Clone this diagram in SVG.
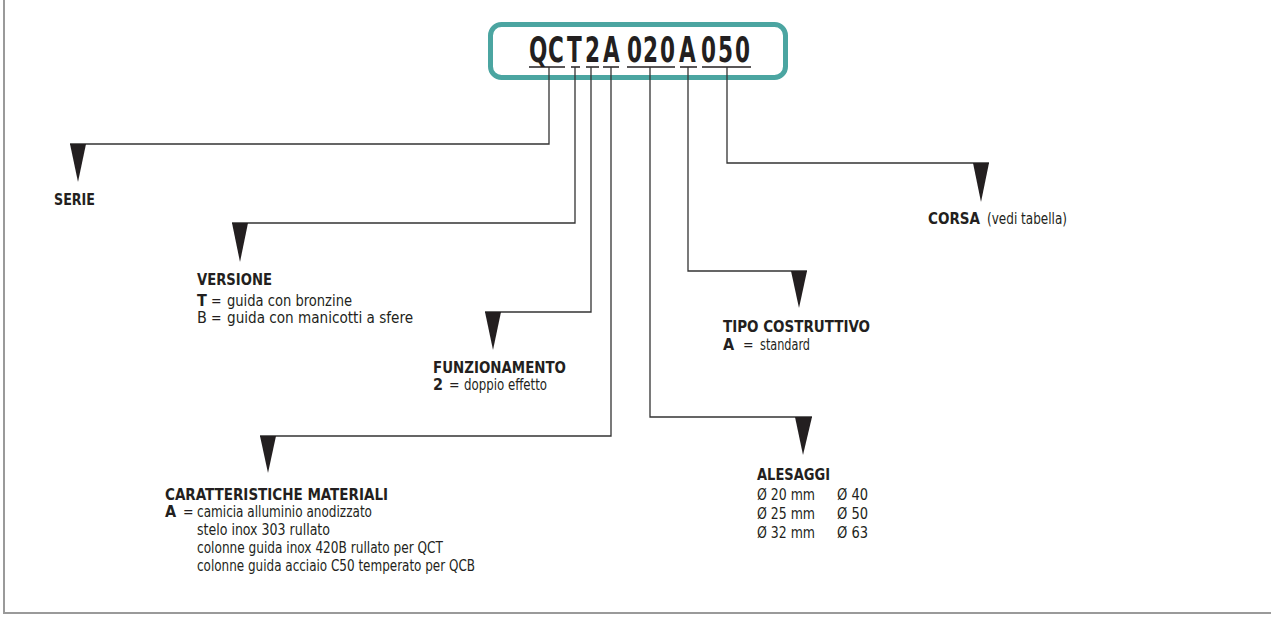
<svg xmlns="http://www.w3.org/2000/svg" width="1271" height="619" viewBox="0 0 1271 619">
<style>
text{font-family:"DejaVu Sans Condensed","DejaVu Sans","Liberation Sans",sans-serif;fill:#231f20;font-size:16px}
.b{font-weight:bold}
.eq{font-size:14px}
.code{font-size:24px;font-weight:bold;fill:#231f20}
.ln{fill:none;stroke:#333;stroke-width:1.3}
.ul{fill:none;stroke:#231f20;stroke-width:1.3}
.tri{fill:#231f20}
</style>
<rect width="1271" height="619" fill="#fff"/>
<path d="M4,0 V613 H1271" fill="none" stroke="#9a9a9a" stroke-width="2"/>
<g id="code">
<rect x="490.5" y="24.5" width="295" height="53" rx="11" fill="#fff" stroke="#4ba5a1" stroke-width="5"/>
<g transform="translate(0,62) scale(1,1.45)">
<text class="code" x="529" y="0">Q</text>
<text class="code" x="548" y="0">C</text>
<text class="code" x="567" y="0">T</text>
<text class="code" x="585" y="0">2</text>
<text class="code" x="603" y="0">A</text>
<text class="code" x="627" y="0">0</text>
<text class="code" x="643" y="0">2</text>
<text class="code" x="660" y="0">0</text>
<text class="code" x="679" y="0">A</text>
<text class="code" x="701" y="0">0</text>
<text class="code" x="718" y="0">5</text>
<text class="code" x="735" y="0">0</text>
</g>
<path class="ul" d="M529,67 H565 M571,67 H580 M586,67 H599 M603,67 H619 M627,67 H675 M680,67 H697 M702,67 H751"/>
</g>
<g id="connectors">
<path class="ln" d="M549,67 V144 H70"/>
<path class="ln" d="M575,67 V223 H232"/>
<path class="ln" d="M591,67 V312 H485"/>
<path class="ln" d="M611,67 V436 H260"/>
<path class="ln" d="M650,67 V417 H812"/>
<path class="ln" d="M688,67 V271 H807"/>
<path class="ln" d="M727,67 V163 H989"/>
<polygon class="tri" points="70,144 86,144 78,182"/>
<polygon class="tri" points="232,223 248,223 240,262"/>
<polygon class="tri" points="485,312 501,312 493,350"/>
<polygon class="tri" points="260,436 276,436 268,473"/>
<polygon class="tri" points="795,417 812,417 803,455"/>
<polygon class="tri" points="791,271 807,271 799,308"/>
<polygon class="tri" points="973,163 989,163 981,202"/>
</g>
<g id="serie">
<text class="b" x="54" y="205" textLength="41" lengthAdjust="spacingAndGlyphs">SERIE</text>
</g>
<g id="versione">
<text class="b" x="197" y="285" textLength="75" lengthAdjust="spacingAndGlyphs">VERSIONE</text>
<text class="b" x="197" y="306">T</text>
<text class="eq" x="211" y="306">=</text>
<text x="227" y="306" textLength="125" lengthAdjust="spacingAndGlyphs">guida con bronzine</text>
<text x="197" y="323">B</text>
<text class="eq" x="211" y="323">=</text>
<text x="227" y="323" textLength="186" lengthAdjust="spacingAndGlyphs">guida con manicotti a sfere</text>
</g>
<g id="funzionamento">
<text class="b" x="433" y="373" textLength="133" lengthAdjust="spacingAndGlyphs">FUNZIONAMENTO</text>
<text class="b" x="433" y="390">2</text>
<text class="eq" x="449" y="390">=</text>
<text x="464" y="390" textLength="83" lengthAdjust="spacingAndGlyphs">doppio effetto</text>
</g>
<g id="materiali">
<text class="b" x="165" y="500" textLength="223" lengthAdjust="spacingAndGlyphs">CARATTERISTICHE MATERIALI</text>
<text class="b" x="165" y="517">A</text>
<text class="eq" x="183" y="517">=</text>
<text x="197" y="517" textLength="175" lengthAdjust="spacingAndGlyphs">camicia alluminio anodizzato</text>
<text x="197" y="535" textLength="133" lengthAdjust="spacingAndGlyphs">stelo inox 303 rullato</text>
<text x="197" y="553" textLength="246" lengthAdjust="spacingAndGlyphs">colonne guida inox 420B rullato per QCT</text>
<text x="197" y="571" textLength="278" lengthAdjust="spacingAndGlyphs">colonne guida acciaio C50 temperato per QCB</text>
</g>
<g id="tipo">
<text class="b" x="723" y="332" textLength="147" lengthAdjust="spacingAndGlyphs">TIPO COSTRUTTIVO</text>
<text class="b" x="723" y="350">A</text>
<text class="eq" x="743" y="350">=</text>
<text x="760" y="350" textLength="50" lengthAdjust="spacingAndGlyphs">standard</text>
</g>
<g id="alesaggi">
<text class="b" x="757" y="480" textLength="73" lengthAdjust="spacingAndGlyphs">ALESAGGI</text>
<text x="757" y="500" textLength="58" lengthAdjust="spacingAndGlyphs">Ø 20 mm</text>
<text x="837" y="500" textLength="31" lengthAdjust="spacingAndGlyphs">Ø 40</text>
<text x="757" y="519" textLength="58" lengthAdjust="spacingAndGlyphs">Ø 25 mm</text>
<text x="837" y="519" textLength="31" lengthAdjust="spacingAndGlyphs">Ø 50</text>
<text x="757" y="538" textLength="58" lengthAdjust="spacingAndGlyphs">Ø 32 mm</text>
<text x="837" y="538" textLength="31" lengthAdjust="spacingAndGlyphs">Ø 63</text>
</g>
<g id="corsa">
<text class="b" x="928" y="224" textLength="52" lengthAdjust="spacingAndGlyphs">CORSA</text>
<text x="987" y="224" textLength="80" lengthAdjust="spacingAndGlyphs">(vedi tabella)</text>
</g>
</svg>
